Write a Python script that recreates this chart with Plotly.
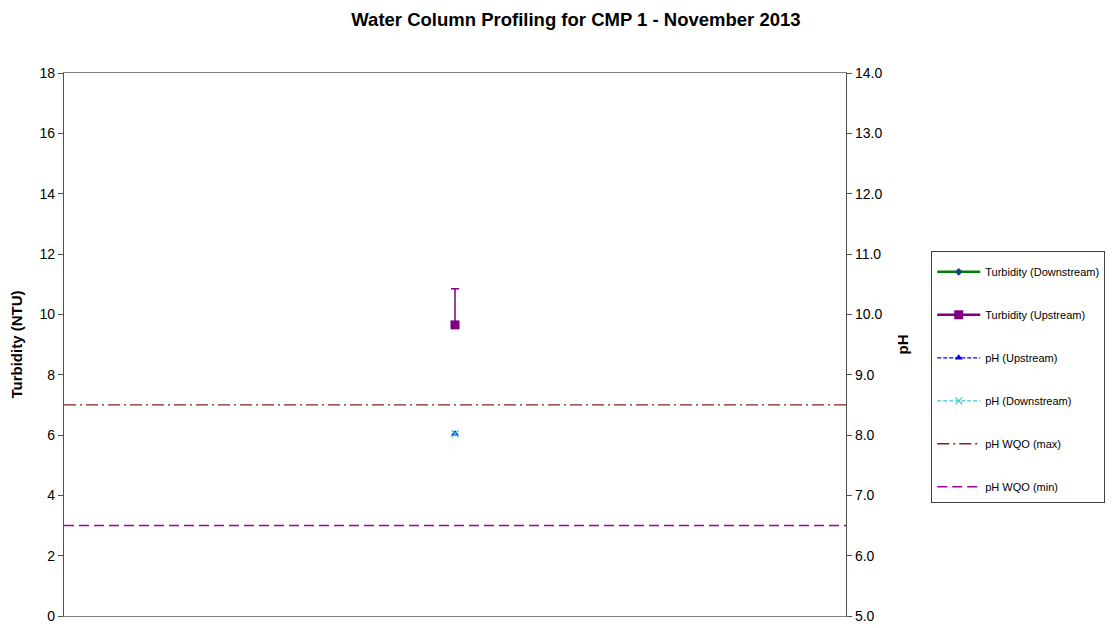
import plotly.graph_objects as go
from plotly.subplots import make_subplots

# one sampling event
events = [1]
turb_down = [None]
turb_up = [9.65]
turb_up_err = [1.2]
ph_up = [8.02]
ph_down = [8.02]
ph_wqo_max = 8.5
ph_wqo_min = 6.5

FONT = "Liberation Sans, Arial, sans-serif"

fig = make_subplots(specs=[[{"secondary_y": True}]])

fig.add_trace(
    go.Scatter(
        x=events, y=turb_down, mode="lines+markers", name="Turbidity (Downstream)",
        line={"color": "#008000", "width": 2.5},
        marker={"symbol": "diamond", "size": 6, "color": "#1f3f7f"},
        legendgroup="g1", legendrank=1,
    ),
    secondary_y=False,
)
fig.add_trace(
    go.Scatter(
        x=events, y=turb_up, mode="lines+markers", name="Turbidity (Upstream)",
        line={"color": "#800080", "width": 2.5},
        marker={"symbol": "square", "size": 9, "color": "#800080"},
        error_y={"type": "data", "array": turb_up_err, "arrayminus": [0] * len(turb_up_err),
                 "color": "#800080", "thickness": 1.5, "width": 4},
        legendgroup="g2", legendrank=2,
    ),
    secondary_y=False,
)
fig.add_trace(
    go.Scatter(
        x=events, y=ph_up, mode="lines+markers", name="pH (Upstream)",
        line={"color": "#0000ff", "width": 1.2, "dash": "4px,2px"},
        marker={"symbol": "triangle-up", "size": 7, "color": "#0000ff"},
        legendgroup="g3", legendrank=3,
    ),
    secondary_y=True,
)
fig.add_trace(
    go.Scatter(
        x=events, y=ph_down, mode="lines+markers", name="pH (Downstream)",
        line={"color": "#33cccc", "width": 1.2, "dash": "4px,2px"},
        marker={"symbol": "x-thin-open", "size": 7, "color": "#33cccc",
                "line": {"width": 1.2, "color": "#33cccc"}},
        legendgroup="g4", legendrank=4,
    ),
    secondary_y=True,
)

fig.add_shape(
    type="line", xref="x domain", x0=0, x1=1, yref="y2", y0=ph_wqo_max, y1=ph_wqo_max,
    line={"color": "#8b1c1c", "width": 1.4, "dash": "12px,4px,2px,4px"},
    showlegend=True, name="pH WQO (max)", legendgroup="g5", legendrank=5,
)
fig.add_shape(
    type="line", xref="x domain", x0=0, x1=1, yref="y2", y0=ph_wqo_min, y1=ph_wqo_min,
    line={"color": "#a000a0", "width": 1.4, "dash": "10px,5px"},
    showlegend=True, name="pH WQO (min)", legendgroup="g6", legendrank=6,
)

fig.update_xaxes(
    domain=[0, 1], range=[0, 2], showticklabels=False, ticks="", showgrid=False,
    zeroline=False, showline=True, linecolor="#808080", linewidth=1.3, mirror=True,
    automargin=False,
)
fig.update_yaxes(
    title_text="<b>Turbidity (NTU)</b>", title_font={"size": 15}, title_standoff=14,
    range=[0, 18], dtick=2, showgrid=False, zeroline=False,
    showline=True, linecolor="#505050", linewidth=1.3, ticks="outside", ticklen=5,
    tickcolor="#505050", automargin=False, secondary_y=False,
)
fig.update_yaxes(
    title_text="<b>pH</b>", title_font={"size": 15}, title_standoff=16,
    range=[5, 14], dtick=1, tickformat=".1f", showgrid=False,
    zeroline=False, showline=True, linecolor="#505050", linewidth=1.3, ticks="outside",
    ticklen=5, tickcolor="#505050", automargin=False, secondary_y=True,
)

# page body has an 8px margin, so the figure is sized to sit inside the window
fig.update_layout(
    title={"text": "<b>Water Column Profiling for CMP 1 - November 2013</b>",
           "x": 0.514, "xanchor": "center", "xref": "container",
           "y": 0.982, "yanchor": "middle", "yref": "container",
           "font": {"size": 18.5, "color": "#000000", "family": FONT}},
    font={"family": FONT, "size": 14, "color": "#000000"},
    width=1105, height=620,
    margin={"l": 56, "r": 267, "t": 65, "b": 12, "autoexpand": False},
    plot_bgcolor="#ffffff", paper_bgcolor="#ffffff",
    showlegend=True,
    legend={"x": 1.109, "xanchor": "left", "y": 0.672, "yanchor": "top",
            "bordercolor": "#404040", "borderwidth": 1, "font": {"size": 11},
            "title": {"text": " ", "font": {"size": 4}},
            "traceorder": "grouped", "tracegroupgap": 24, "itemwidth": 43},
)

fig.write_html("out.html")
